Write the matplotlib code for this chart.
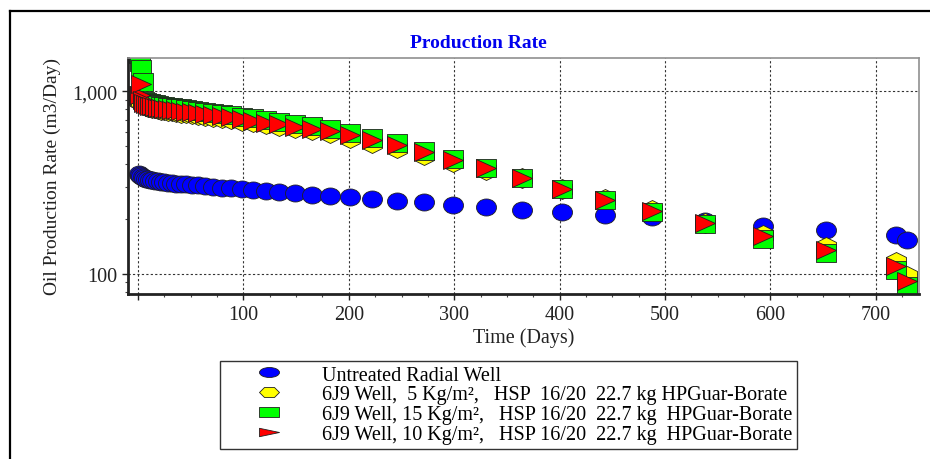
import numpy as np
import matplotlib
matplotlib.use('Agg')
import matplotlib.pyplot as plt
from matplotlib.path import Path
from matplotlib.transforms import Affine2D
from matplotlib.lines import Line2D
from matplotlib.ticker import FixedLocator, MultipleLocator, LogLocator, NullFormatter

plt.rcParams['font.family'] = ['Liberation Serif', 'DejaVu Serif']

# time steps of the simulation (days)
times = [1, 2.1, 3.3, 4.6, 6.1, 7.7, 9.5, 11.4, 13.6, 15.9, 18.5, 21.4, 24.5, 28, 31.8,
         35.9, 40.5, 45.6, 51.2, 57.3, 64, 71.4, 79.5, 88.5, 98.3, 109, 121, 134, 149,
         165, 182, 201, 222, 246, 271, 299, 330, 364, 402, 443, 488, 538, 593, 653, 719, 730]

# oil rate (m3/day)
untreated = [352, 347, 343, 339, 335, 332, 329, 327, 325, 323, 321, 319, 318, 316, 314,
             312, 310, 309, 307, 305, 303, 300, 297, 294, 290, 287, 284, 280, 276,
             272, 268, 263, 258, 252, 247, 240, 233, 225, 218, 209, 204, 195, 184, 175, 164, 154]
well_5kg = [900, 890, 880, 860, 845, 834, 825, 817, 810, 805, 799, 793, 788, 782, 776,
            770, 765, 759, 752, 745, 736, 727, 717, 705, 691, 675, 660, 645, 628,
            611, 588, 553, 519, 488, 448, 409, 371, 334, 292, 257, 223, 191, 164, 140, 117, 98]
well_15kg = [1600, 1450, 1320, 1130, 890, 878, 868, 860, 853, 847, 841, 835, 829, 823, 817,
             811, 805, 799, 792, 784, 775, 765, 755, 742, 727, 711, 695, 679, 661,
             643, 622, 592, 555, 518, 473, 424, 380, 335, 292, 254, 219, 187, 156, 130, 105, 86]
well_10kg = [960, 950, 1090, 900, 865, 852, 842, 834, 827, 821, 815, 810, 804, 798, 792,
             787, 781, 775, 768, 760, 752, 742, 732, 720, 705, 690, 674, 659, 641,
             624, 604, 576, 542, 507, 465, 419, 378, 335, 292, 255, 222, 189, 161, 135, 111, 91]

labels = ['Untreated Radial Well',
          '6J9 Well,  5 Kg/m²,   HSP  16/20  22.7 kg HPGuar-Borate',
          '6J9 Well, 15 Kg/m²,   HSP 16/20  22.7 kg  HPGuar-Borate',
          '6J9 Well, 10 Kg/m²,   HSP 16/20  22.7 kg  HPGuar-Borate']
colors = ['#0000ff', '#ffff00', '#00ff00', '#ff0000']


# helper to make a closed polygon marker
def poly(pts):
    pts = list(pts) + [pts[0]]
    return Path(pts, closed=True)


# markers used in the plot (a bit wider than tall, like the original)
ellipse = Path.unit_circle().transformed(Affine2D().scale(1, 0.85))
hexagon = poly([(-1, -0.5), (-1, 0.5), (0, 1), (1, 0.5), (1, -0.5), (0, -1)])
square = poly([(-1, -0.9), (1, -0.9), (1, 0.9), (-1, 0.9)])
triangle = poly([(-1, -0.9), (1, 0), (-1, 0.9)])
plot_markers = [ellipse, hexagon, square, triangle]

# flatter markers used in the legend
leg_ellipse = Path.unit_circle().transformed(Affine2D().scale(1, 0.5))
leg_hexagon = poly([(-1, 0), (-0.5, 0.5), (0.5, 0.5), (1, 0), (0.5, -0.5), (-0.5, -0.5)])
leg_square = poly([(-1, -0.5), (1, -0.5), (1, 0.5), (-1, 0.5)])
leg_triangle = poly([(-1, -0.42), (1, 0), (-1, 0.42)])
legend_markers = [leg_ellipse, leg_hexagon, leg_square, leg_triangle]

fig = plt.figure(figsize=(9.3, 4.6), dpi=100)
ax = fig.add_axes([128 / 930, 1 - 295 / 460, (919 - 128) / 930, (295 - 59) / 460])

series = [untreated, well_5kg, well_15kg, well_10kg]
for values, mk, col in zip(series, plot_markers, colors):
    ax.plot(times, values, linestyle='none', marker=mk, markersize=14.4,
            markerfacecolor=col, markeredgecolor='#202020', markeredgewidth=0.6)

ax.set_yscale('log')
ax.set_xlim(-9.5, 741)
ax.set_ylim(77.7, 1521)

# ticks
ax.xaxis.set_major_locator(FixedLocator([0, 100, 200, 300, 400, 500, 600, 700]))
ax.set_xticklabels(['', '100', '200', '300', '400', '500', '600', '700'])
ax.xaxis.set_minor_locator(MultipleLocator(25))
ax.yaxis.set_major_locator(FixedLocator([100, 1000]))
ax.set_yticklabels(['100', '1,000'])
ax.yaxis.set_minor_locator(LogLocator(base=10, subs=np.arange(2, 10)))
ax.yaxis.set_minor_formatter(NullFormatter())
ax.tick_params(axis='both', which='major', labelsize=14.5, colors='#222222', length=4, width=1)
ax.tick_params(axis='both', which='minor', length=2.5, width=0.8, colors='#444444')
ax.tick_params(axis='x', which='major', pad=4)

# grid
ax.grid(True, which='major', linestyle=(0, (2, 2)), linewidth=0.8, color='#333333')
ax.set_axisbelow(True)

# spines
ax.spines['left'].set_linewidth(2)
ax.spines['bottom'].set_linewidth(2)
ax.spines['left'].set_color('#222222')
ax.spines['bottom'].set_color('#222222')
ax.spines['top'].set_color('#909090')
ax.spines['right'].set_color('#909090')
ax.spines['top'].set_linewidth(1.2)
ax.spines['right'].set_linewidth(1.2)

ax.set_xlabel('Time (Days)', fontsize=14.5, color='#222222', labelpad=2)
ax.set_ylabel('Oil Production Rate (m3/Day)', fontsize=14, color='#222222', labelpad=8)
fig.text(478 / 930, 1 - 43 / 460, 'Production Rate', fontsize=14, fontweight='bold',
         color='#0000ee', ha='center', va='center')

# legend below the chart
handles = [Line2D([], [], linestyle='none', marker=mk, markersize=14.4, markerfacecolor=col,
                  markeredgecolor='#202020', markeredgewidth=0.6)
           for mk, col in zip(legend_markers, colors)]
leg = fig.legend(handles, labels, loc='upper left', bbox_to_anchor=(220 / 930, 1 - 362 / 460),
                 bbox_transform=fig.transFigure, fontsize=14.5, frameon=True, fancybox=False,
                 edgecolor='#333333', framealpha=1, numpoints=1, handlelength=4.4,
                 handletextpad=0.45, borderpad=0.22, labelspacing=0.04, borderaxespad=0)
leg.get_frame().set_linewidth(1.0)

# outer frame lines (top and left)
fig.add_artist(Line2D([10 / 930, 10 / 930], [0, 1 - 12 / 460], transform=fig.transFigure,
                      color='black', linewidth=1.6))
fig.add_artist(Line2D([10 / 930, 1], [1 - 12 / 460, 1 - 12 / 460], transform=fig.transFigure,
                      color='black', linewidth=1.6))

fig.savefig('out.png', dpi=100)
